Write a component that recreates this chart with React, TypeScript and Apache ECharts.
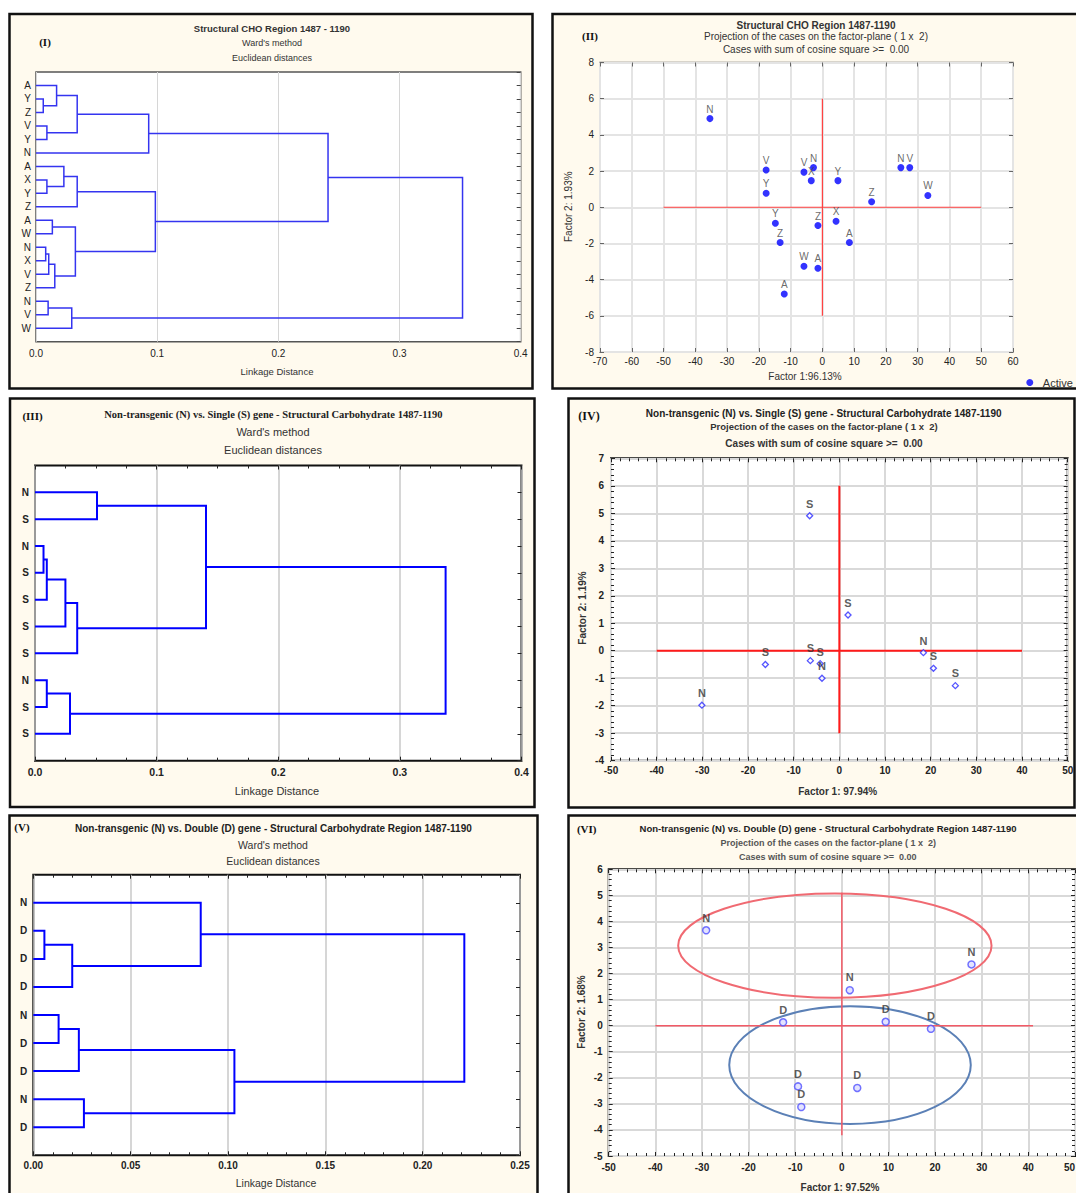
import React, { useEffect, useRef } from "react";
import * as echarts from "echarts";

const SANS = '"Liberation Sans", Arial, sans-serif';
const SERIF = '"Liberation Serif", "Times New Roman", serif';

// ---------- (I) all samples, Ward's method ----------
const leavesI = ["A", "Y", "Z", "V", "Y", "N", "A", "X", "Y", "Z", "A", "W", "N", "X", "V", "Z", "N", "V", "W"];
// [left node, right node, linkage distance]; nodes >= leaf count are earlier merges
const mergesI: [number, number, number][] = [
  [1, 2, 0.006], [0, 19, 0.017], [3, 4, 0.009], [20, 21, 0.034], [22, 5, 0.093],
  [7, 8, 0.009], [6, 24, 0.023], [25, 9, 0.034], [10, 11, 0.0135], [12, 13, 0.008],
  [28, 14, 0.0105], [29, 15, 0.0155], [27, 30, 0.0325], [26, 31, 0.0985], [23, 32, 0.241],
  [16, 17, 0.01], [34, 18, 0.0295], [33, 35, 0.352],
];
const distTicksI = [0, 0.4, 0.1];

// ---------- (II) factor plane, all samples ----------
const labelsII = ["N", "V", "Y", "V", "N", "X", "Y", "N", "V", "W", "Z", "Y", "Z", "X", "Z", "A", "W", "A", "A"];
const factor1II = [-35.4, -17.7, -17.7, -5.8, -2.8, -3.5, 4.9, 24.7, 27.5, 33.2, 15.5, -14.8, -1.4, 4.3, -13.3, 8.5, -5.8, -1.4, -12.0];
const factor2II = [4.9, 2.06, 0.77, 1.94, 2.19, 1.47, 1.47, 2.19, 2.19, 0.65, 0.3, -0.88, -1.01, -0.77, -1.95, -1.95, -3.26, -3.37, -4.79];
const xTicksII = [-70, 60, 10];
const yTicksII = [-8, 8, 2];
const crossXII = [-50, 50];
const crossYII = [-6, 6];

// ---------- (III) N vs S, Ward's method ----------
const leavesIII = ["N", "S", "N", "S", "S", "S", "S", "N", "S", "S"];
const mergesIII: [number, number, number][] = [
  [0, 1, 0.051], [2, 3, 0.007], [11, 4, 0.0097], [12, 5, 0.025], [13, 6, 0.0347],
  [10, 14, 0.1406], [7, 8, 0.0097], [16, 9, 0.0288], [15, 17, 0.3376],
];
const distTicksIII = [0, 0.4, 0.1];

// ---------- (IV) N vs S factor plane ----------
const labelsIV = ["S", "S", "S", "S", "S", "N", "N", "N", "S", "S"];
const factor1IV = [-6.5, 1.9, -16.2, -6.35, -4.2, -3.8, -30.1, 18.4, 20.6, 25.4];
const factor2IV = [4.91, 1.3, -0.5, -0.36, -0.47, -1.0, -1.98, -0.07, -0.64, -1.27];
const xTicksIV = [-50, 50, 10];
const yTicksIV = [-4, 7, 1];
const crossXIV = [-40, 40];
const crossYIV = [-3, 6];

// ---------- (V) N vs D, Ward's method ----------
const leavesV = ["N", "D", "D", "D", "N", "D", "D", "N", "D"];
const mergesV: [number, number, number][] = [
  [1, 2, 0.0057], [9, 3, 0.02], [0, 10, 0.086], [4, 5, 0.013], [12, 6, 0.0234],
  [7, 8, 0.026], [13, 14, 0.1033], [11, 15, 0.2214],
];
const distTicksV = [0, 0.25, 0.05];

// ---------- (VI) N vs D factor plane ----------
const labelsVI = ["N", "N", "N", "D", "D", "D", "D", "D", "D"];
const factor1VI = [-29.1, 27.8, 1.7, -12.6, 9.4, 19.1, -9.4, -8.7, 3.3];
const factor2VI = [3.66, 2.35, 1.36, 0.13, 0.15, -0.12, -2.33, -3.12, -2.39];
const xTicksVI = [-50, 50, 10];
const yTicksVI = [-5, 6, 1];
const crossXVI = [-40, 41];
const crossYVI = [-4.2, 5.1];
// group ellipses: [centre f1, centre f2, half-width, half-height]
const groupN = [-1.5, 3.07, 33.6, 2.0];
const groupD = [1.75, -1.51, 25.9, 2.26];

// Each merge becomes a bracket from its two children to its linkage distance.
function dendrogramPaths(n: number, merges: [number, number, number][]) {
  const pos: number[] = [];
  const h: number[] = [];
  for (let i = 0; i < n; i++) {
    pos.push(i + 1);
    h.push(0);
  }
  const paths: { coords: number[][] }[] = [];
  merges.forEach(([a, b, d]) => {
    paths.push({ coords: [[h[a], pos[a]], [d, pos[a]], [d, pos[b]], [h[b], pos[b]]] });
    pos.push((pos[a] + pos[b]) / 2);
    h.push(d);
  });
  return paths;
}

function points(f1: number[], f2: number[], labels: string[]) {
  return f1.map((x, i) => ({ name: labels[i], value: [x, f2[i]] }));
}

function axis(gridIndex: number, position: string, range: number[], o: any = {}) {
  return {
    type: "value",
    gridIndex,
    position,
    min: range[0],
    max: range[1],
    interval: range[2],
    inverse: !!o.inverse,
    axisLine: { show: false, onZero: false },
    axisTick: {
      show: !!o.ticks,
      inside: true,
      length: o.tickLen ?? 4,
      lineStyle: { color: o.tickColor ?? "#333", width: 1 },
    },
    minorTick: {
      show: !!o.minor,
      splitNumber: o.minor ?? 5,
      length: 3,
      lineStyle: { color: o.tickColor ?? "#333", width: 1 },
    },
    splitLine: { show: !!o.grid, lineStyle: { color: o.gridColor ?? "#d8d8d8", width: o.gridWidth ?? 1 } },
    axisLabel: o.label ? { show: true, fontFamily: SANS, ...o.label } : { show: false },
  };
}

function grid(left: number, top: number, right: number, bottom: number, border: string, bw: number) {
  return {
    left,
    top,
    width: right - left,
    height: bottom - top,
    show: true,
    backgroundColor: "#ffffff",
    borderColor: border,
    borderWidth: bw,
    containLabel: false,
    outerBoundsMode: "none",
  };
}

type T = [number, number, string, number, string?, string?, string?, boolean?];
const texts: T[] = [
  [45, 41.5, "(I)", 11, "bold", SERIF, "#111"],
  [272, 28.3, "Structural CHO Region 1487 - 1190", 9.5, "bold"],
  [272, 43.3, "Ward's method", 9],
  [272, 58.3, "Euclidean distances", 9],
  [277, 371.7, "Linkage Distance", 9.5],

  [590, 36, "(II)", 11, "bold", SERIF, "#111"],
  [816, 25.7, "Structural CHO Region 1487-1190", 10, "bold"],
  [816, 36.7, "Projection of the cases on the factor-plane ( 1 x  2)", 10],
  [816, 49.3, "Cases with sum of cosine square >=  0.00", 10],
  [805, 376.7, "Factor 1:96.13%", 10],
  [568.5, 206.7, "Factor 2: 1.93%", 10, "normal", SANS, "#333", true],

  [32.5, 416, "(III)", 11, "bold", SERIF, "#111"],
  [273.4, 414, "Non-transgenic (N) vs. Single (S) gene - Structural Carbohydrate 1487-1190", 10.5, "bold", SERIF, "#222"],
  [273, 432.3, "Ward's method", 11],
  [273, 450, "Euclidean distances", 11],
  [277, 791, "Linkage Distance", 11],

  [589, 415.7, "(IV)", 12, "bold", SERIF, "#111"],
  [823.7, 413.3, "Non-transgenic (N) vs. Single (S) gene - Structural Carbohydrate 1487-1190", 10, "bold", SANS, "#222"],
  [824, 426, "Projection of the cases on the factor-plane ( 1 x  2)", 9.5, "bold"],
  [824, 443.3, "Cases with sum of cosine square >=  0.00", 10, "bold"],
  [837.7, 791, "Factor 1: 97.94%", 10, "bold"],
  [582, 608, "Factor 2: 1.19%", 10, "bold", SANS, "#333", true],

  [22, 827, "(V)", 11, "bold", SERIF, "#111"],
  [273.4, 828.7, "Non-transgenic (N) vs. Double (D) gene - Structural Carbohydrate Region 1487-1190", 10, "bold", SANS, "#222"],
  [273, 845.3, "Ward's method", 10.5],
  [273, 861, "Euclidean distances", 10.5],
  [276, 1182.7, "Linkage Distance", 10.5],

  [586.7, 828.7, "(VI)", 11, "bold", SERIF, "#111"],
  [828, 828.7, "Non-transgenic (N) vs. Double (D) gene - Structural Carbohydrate Region 1487-1190", 9.5, "bold", SANS, "#222"],
  [828.3, 842.7, "Projection of the cases on the factor-plane ( 1 x  2)", 9, "bold", SANS, "#555"],
  [827.7, 857, "Cases with sum of cosine square >=  0.00", 9, "bold", SANS, "#555"],
  [840, 1187, "Factor 1: 97.52%", 10, "bold"],
  [581, 1012, "Factor 2: 1.68%", 10, "bold", SANS, "#333", true],
];

const panels = [
  [9.5, 14, 532.5, 388.5],
  [552.5, 14, 1095, 388.5],
  [10, 398.5, 534.5, 807],
  [568.5, 398.5, 1074.5, 807.5],
  [9.5, 815.5, 537.5, 1215],
  [568.5, 815.5, 1095, 1215],
];

function buildOption(): any {
  const lbl = (size: number, weight = "normal", margin = 5, formatter?: any, extra: any = {}) => ({
    fontSize: size,
    fontWeight: weight,
    color: "#222",
    margin,
    formatter,
    ...extra,
  });
  const leafFmt = (leaves: string[]) => (v: number) => leaves[Math.round(v) - 1] ?? "";
  const fix = (d: number) => (v: number) => v.toFixed(d);

  const xAxis = [
    // I
    axis(0, "bottom", distTicksI, { grid: true, gridColor: "#d6d6d6", label: lbl(10, "normal", 7, fix(1)) }),
    axis(0, "top", distTicksI, {}),
    // II
    axis(1, "bottom", xTicksII, { grid: true, gridColor: "#e4e4e4", gridWidth: 2, ticks: true, tickColor: "#666", label: lbl(10, "normal", 4) }),
    axis(1, "top", xTicksII, { ticks: true, tickColor: "#666" }),
    // III
    axis(2, "bottom", distTicksIII, { grid: true, gridColor: "#c8c8c8", gridWidth: 1.5, ticks: true, minor: 4, tickColor: "#222", label: lbl(10.5, "bold", 6, fix(1)) }),
    axis(2, "top", distTicksIII, { ticks: true, minor: 4, tickColor: "#222" }),
    // IV
    axis(3, "bottom", xTicksIV, { grid: true, gridColor: "#d9d9d9", gridWidth: 2, ticks: true, minor: 5, tickColor: "#222", label: lbl(10, "bold", 5) }),
    axis(3, "top", xTicksIV, { ticks: true, minor: 5, tickColor: "#222" }),
    // V
    axis(4, "bottom", distTicksV, { grid: true, gridColor: "#c8c8c8", gridWidth: 1.5, ticks: true, minor: 5, tickColor: "#222", label: lbl(10, "bold", 5, fix(2)) }),
    axis(4, "top", distTicksV, { ticks: true, minor: 5, tickColor: "#222" }),
    // VI
    axis(5, "bottom", xTicksVI, { grid: true, gridColor: "#d9d9d9", gridWidth: 2, ticks: true, minor: 5, tickColor: "#222", label: lbl(10, "bold", 6, undefined, { alignMaxLabel: "right" }) }),
    axis(5, "top", xTicksVI, { ticks: true, minor: 5, tickColor: "#222" }),
  ];

  const yAxis = [
    axis(0, "left", [0, leavesI.length + 1, 1], { inverse: true, label: lbl(10, "normal", 5, leafFmt(leavesI)) }),
    axis(0, "right", [0, leavesI.length + 1, 1], { inverse: true, ticks: true, tickColor: "#444" }),
    axis(1, "left", yTicksII, { grid: true, gridColor: "#e4e4e4", gridWidth: 2, ticks: true, tickColor: "#666", label: lbl(10, "normal", 6) }),
    axis(1, "right", yTicksII, { ticks: true, tickColor: "#666" }),
    axis(2, "left", [0, leavesIII.length + 1, 1], { inverse: true, label: lbl(10, "bold", 6, leafFmt(leavesIII)) }),
    axis(2, "right", [0, leavesIII.length + 1, 1], { inverse: true, ticks: true, tickColor: "#222" }),
    axis(3, "left", yTicksIV, { grid: true, gridColor: "#d9d9d9", gridWidth: 2, ticks: true, minor: 5, tickColor: "#222", label: lbl(10, "bold", 7) }),
    axis(3, "right", yTicksIV, { ticks: true, minor: 5, tickColor: "#222" }),
    axis(4, "left", [0, leavesV.length + 1, 1], { inverse: true, label: lbl(10, "bold", 6, leafFmt(leavesV)) }),
    axis(4, "right", [0, leavesV.length + 1, 1], { inverse: true, ticks: true, tickColor: "#222" }),
    axis(5, "left", yTicksVI, { grid: true, gridColor: "#d9d9d9", gridWidth: 2, ticks: true, minor: 5, tickColor: "#222", label: lbl(10, "bold", 6) }),
    axis(5, "right", yTicksVI, { ticks: true, minor: 5, tickColor: "#222" }),
  ];

  const tree = (idx: number, data: any, color: string, width: number) => ({
    type: "lines",
    coordinateSystem: "cartesian2d",
    xAxisIndex: idx,
    yAxisIndex: idx,
    polyline: true,
    silent: true,
    data,
    lineStyle: { color, width, opacity: 1 },
  });
  // red reference cross through the origin: one horizontal, one vertical segment
  const cross = (idx: number, xs: number[], ys: number[], color: string, width: number) =>
    [
      [[xs[0], 0], [xs[1], 0]],
      [[0, ys[0]], [0, ys[1]]],
    ].map((seg) => ({
      type: "line",
      xAxisIndex: idx,
      yAxisIndex: idx,
      silent: true,
      z: 1,
      symbol: "none",
      data: seg,
      lineStyle: { color, width, opacity: 1 },
      itemStyle: { color },
    }));
  const ptLabel = (size: number, weight: string, color: string, dist: number) => ({
    show: true,
    formatter: "{b}",
    position: "top",
    distance: dist,
    fontSize: size,
    fontWeight: weight,
    fontFamily: SANS,
    color,
  });

  const ellipseColours = ["#f06a72", "#5b80b6"];

  const series: any[] = [
    tree(0, dendrogramPaths(leavesI.length, mergesI), "#3434f0", 1.5),
    ...cross(2, crossXII, crossYII, "#ff4040", 1.2),
    {
      type: "scatter",
      name: "Active",
      xAxisIndex: 2,
      yAxisIndex: 2,
      data: points(factor1II, factor2II, labelsII),
      symbol: "circle",
      symbolSize: 7,
      z: 3,
      itemStyle: { color: "#0000ff" },
      label: ptLabel(10, "normal", "#444", 1),
    },
    tree(4, dendrogramPaths(leavesIII.length, mergesIII), "#0000ff", 2),
    ...cross(6, crossXIV, crossYIV, "#ff1a1a", 2),
    {
      type: "scatter",
      xAxisIndex: 6,
      yAxisIndex: 6,
      data: points(factor1IV, factor2IV, labelsIV),
      symbol: "diamond",
      symbolSize: 6,
      z: 3,
      itemStyle: { color: "#ffffff", borderColor: "#2b2bff", borderWidth: 1.3 },
      label: ptLabel(11, "bold", "#333", 3),
    },
    tree(8, dendrogramPaths(leavesV.length, mergesV), "#0000ff", 2),
    ...cross(10, crossXVI, crossYVI, "#f25a66", 1.5),
    {
      type: "custom",
      coordinateSystem: "cartesian2d",
      xAxisIndex: 10,
      yAxisIndex: 10,
      silent: true,
      z: 1,
      data: [groupN, groupD],
      renderItem: (params: any, api: any) => {
        const c = api.coord([api.value(0), api.value(1)]);
        const s = api.size([api.value(2), api.value(3)]);
        return {
          type: "ellipse",
          shape: { cx: c[0], cy: c[1], rx: s[0], ry: s[1] },
          style: { fill: "none", stroke: ellipseColours[params.dataIndex], lineWidth: 2 },
        };
      },
    },
    {
      type: "scatter",
      xAxisIndex: 10,
      yAxisIndex: 10,
      data: points(factor1VI, factor2VI, labelsVI),
      symbol: "circle",
      symbolSize: 7,
      z: 3,
      itemStyle: { color: "#dcdcff", borderColor: "#5050ff", borderWidth: 1.5 },
      label: ptLabel(11, "bold", "#333", 3),
    },
  ];

  const graphic: any[] = [
    ...panels.map(([x0, y0, x1, y1]) => ({
      type: "rect",
      z: -10,
      silent: true,
      shape: { x: x0, y: y0, width: x1 - x0, height: y1 - y0 },
      style: { fill: "#fffaee", stroke: "#111", lineWidth: 2.5 },
    })),
    ...texts.map(([x, y, text, size, weight, family, color, rotate]) => ({
      type: "text",
      x,
      y,
      rotation: rotate ? Math.PI / 2 : 0,
      silent: true,
      z: 10,
      style: {
        text,
        fontSize: size,
        fontWeight: weight ?? "normal",
        fontFamily: family ?? SANS,
        fill: color ?? "#333",
        align: "center",
        verticalAlign: "middle",
      },
    })),
  ];

  return {
    animation: false,
    backgroundColor: "#ffffff",
    grid: [
      grid(36, 72, 520.7, 341.7, "#555", 1.5),
      grid(600, 62.5, 1013, 352, "#666", 1.5),
      grid(35, 465.5, 521.5, 760.7, "#111", 2),
      grid(611, 458.3, 1067.7, 760.7, "#111", 2),
      grid(33.3, 874.7, 520, 1155.3, "#111", 2),
      grid(608.7, 869.3, 1075, 1156, "#111", 2),
    ],
    xAxis,
    yAxis,
    series,
    graphic,
    legend: {
      data: ["Active"],
      left: 1021.3,
      top: 372,
      icon: "circle",
      itemWidth: 16,
      itemHeight: 7,
      selectedMode: false,
      textStyle: { fontSize: 11, fontFamily: SANS, color: "#333" },
    },
  };
}

export default function App() {
  const ref = useRef<HTMLDivElement>(null);
  useEffect(() => {
    const chart = echarts.init(ref.current!, undefined, { renderer: "svg" });
    chart.setOption(buildOption());
    return () => chart.dispose();
  }, []);
  return (
    <div
      ref={ref}
      style={{ position: "absolute", left: 0, top: 0, width: 1076, height: 1193, background: "#fff" }}
    />
  );
}
